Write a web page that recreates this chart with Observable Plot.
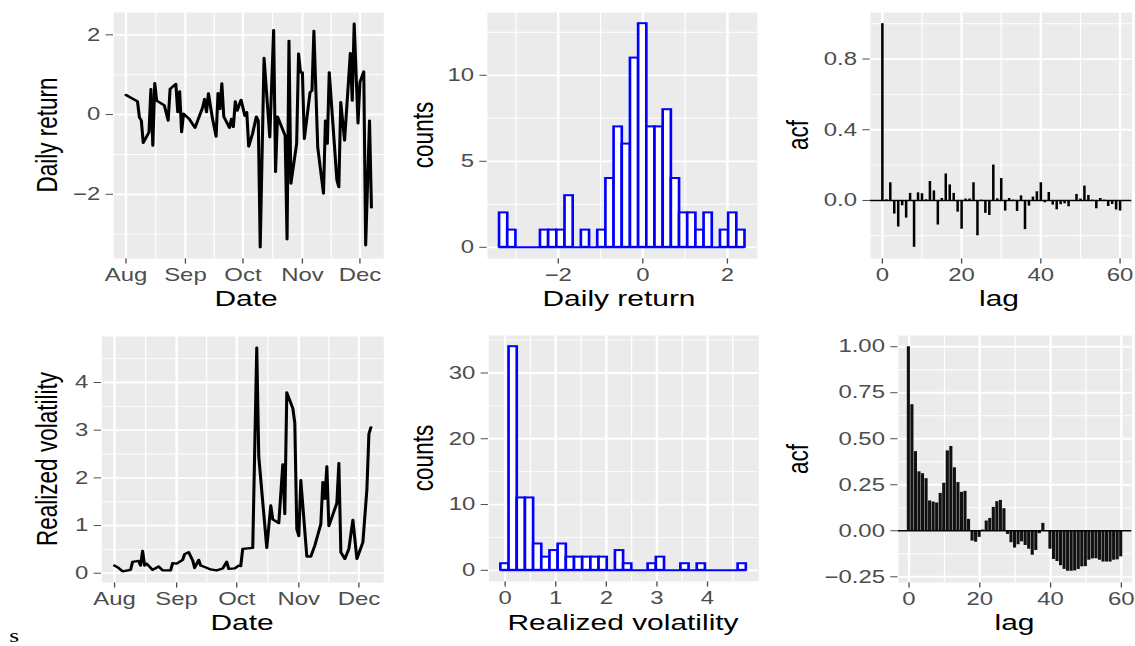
<!DOCTYPE html>
<html><head><meta charset="utf-8">
<script src="https://cdn.jsdelivr.net/npm/d3@7"></script>
<script src="https://cdn.jsdelivr.net/npm/@observablehq/plot@0.6"></script>
<style>
body{margin:0;background:#fff;}
#root{position:relative;width:853.4px;height:646px;transform:scaleX(1.33);transform-origin:0 0;font-family:"Liberation Sans",Arial,Helvetica,sans-serif;overflow:visible;}
.xt,.yt{position:absolute;font-size:22.5px;line-height:1;color:#000;white-space:nowrap;}
.xt{transform:translate(-50%,-50%);}
.yt{transform:translate(-50%,-50%) rotate(-90deg);}
.stray{position:absolute;left:7px;top:625px;font-family:"Liberation Serif","DejaVu Serif",serif;font-size:19px;color:#000;}
</style></head><body><div id="root"></div>
<script>
// ---------------- data ----------------
const retDates = ["2008-08-01","2008-08-07","2008-08-08","2008-08-09","2008-08-10","2008-08-13","2008-08-14","2008-08-15","2008-08-16","2008-08-17","2008-08-21","2008-08-23","2008-08-24","2008-08-27","2008-08-28","2008-08-29","2008-08-30","2008-08-31","2008-09-03","2008-09-06","2008-09-10","2008-09-11","2008-09-12","2008-09-13","2008-09-15","2008-09-17","2008-09-18","2008-09-19","2008-09-20","2008-09-21","2008-09-24","2008-09-25","2008-09-26","2008-09-27","2008-09-28","2008-09-30","2008-10-02","2008-10-03","2008-10-04","2008-10-06","2008-10-08","2008-10-09","2008-10-10","2008-10-12","2008-10-15","2008-10-17","2008-10-18","2008-10-19","2008-10-23","2008-10-24","2008-10-25","2008-10-26","2008-10-29","2008-10-30","2008-10-31","2008-11-01","2008-11-02","2008-11-05","2008-11-06","2008-11-07","2008-11-09","2008-11-12","2008-11-13","2008-11-14","2008-11-15","2008-11-19","2008-11-20","2008-11-21","2008-11-23","2008-11-26","2008-11-27","2008-11-28","2008-11-30","2008-12-01","2008-12-03","2008-12-04","2008-12-06","2008-12-07"];
const retValues = [0.49,0.33,-0.07,-0.15,-0.71,-0.44,0.64,-0.78,0.79,0.35,0.23,-0.15,0.64,0.77,0.06,0.58,-0.44,0.02,-0.11,-0.33,0.18,0.39,0.06,0.53,-0.07,-0.55,0.54,0.14,0.78,-0.05,-0.33,-0.11,-0.31,0.33,0.10,0.37,-0.03,0.06,-0.80,-0.48,-0.05,-0.15,-3.33,1.42,-0.57,2.12,-1.44,-0.05,-0.53,-3.13,1.85,-1.73,-0.73,1.53,1.06,1.06,-0.61,0.56,0.60,2.10,-0.82,-1.98,-0.15,-0.73,1.06,-1.65,-1.82,0.31,-0.65,1.54,0.35,2.28,-0.22,0.81,1.08,-3.28,-0.15,-2.33];

const volDates = ["2008-08-01","2008-08-03","2008-08-05","2008-08-09","2008-08-10","2008-08-13","2008-08-14","2008-08-15","2008-08-16","2008-08-17","2008-08-20","2008-08-23","2008-08-25","2008-08-29","2008-08-30","2008-09-01","2008-09-04","2008-09-05","2008-09-07","2008-09-09","2008-09-10","2008-09-12","2008-09-13","2008-09-15","2008-09-18","2008-09-21","2008-09-24","2008-09-26","2008-09-27","2008-09-30","2008-10-02","2008-10-03","2008-10-04","2008-10-09","2008-10-11","2008-10-12","2008-10-16","2008-10-18","2008-10-19","2008-10-22","2008-10-24","2008-10-25","2008-10-26","2008-10-29","2008-10-30","2008-10-31","2008-11-01","2008-11-02","2008-11-05","2008-11-07","2008-11-09","2008-11-12","2008-11-13","2008-11-14","2008-11-15","2008-11-16","2008-11-20","2008-11-21","2008-11-22","2008-11-24","2008-11-26","2008-11-28","2008-11-30","2008-12-03","2008-12-05","2008-12-06","2008-12-07"];
const volValues = [0.16,0.11,0.04,0.07,0.24,0.26,0.16,0.47,0.16,0.20,0.07,0.14,0.06,0.06,0.21,0.20,0.28,0.40,0.44,0.27,0.11,0.28,0.16,0.13,0.08,0.06,0.10,0.24,0.09,0.10,0.16,0.15,0.51,0.53,4.73,2.45,0.53,1.42,1.13,1.05,2.28,1.24,3.79,3.46,3.15,0.92,0.78,1.95,0.35,0.35,0.58,1.03,1.91,1.56,2.24,0.99,1.47,2.31,0.44,0.30,0.51,1.12,0.30,0.65,1.76,2.92,3.06];

const retBinStart = -3.385, retBinWidth = 0.1935;
const retCounts = [2,1,0,0,0,1,1,1,3,0,1,0,1,4,7,6,11,13,7,7,8,4,2,2,1,2,0,1,2,1];
const volBinStart = -0.081, volBinWidth = 0.1617;
const volCounts = [1,34,11,11,4,2,3,4,2,2,2,2,2,0,3,1,0,0,1,2,0,0,1,0,1,0,0,0,0,1];

const acfRet = [1.0,0.004,0.10,-0.077,-0.15,-0.03,-0.10,0.04,-0.265,0.043,0.038,0.004,0.107,0.054,-0.139,0.011,0.15,0.088,0.04,-0.066,-0.163,0.008,0.008,0.10,-0.20,0.002,-0.073,-0.085,0.20,0.009,0.124,-0.06,0.011,0.002,-0.062,0.026,-0.165,-0.032,0.019,0.049,0.10,-0.013,0.045,-0.026,-0.053,-0.024,-0.019,-0.036,-0.003,0.034,0.008,0.081,0.028,0.002,-0.047,0.011,0.002,-0.034,-0.023,-0.054,-0.06];
const acfVol = [1.0,0.685,0.43,0.32,0.31,0.283,0.162,0.156,0.151,0.203,0.258,0.434,0.458,0.342,0.262,0.209,0.214,0.062,-0.056,-0.062,-0.036,0.004,0.053,0.067,0.127,0.158,0.165,0.12,-0.02,-0.065,-0.094,-0.076,-0.06,-0.08,-0.10,-0.133,-0.107,-0.016,0.04,-0.003,-0.10,-0.156,-0.167,-0.19,-0.21,-0.22,-0.22,-0.218,-0.21,-0.196,-0.195,-0.16,-0.153,-0.152,-0.16,-0.17,-0.17,-0.17,-0.16,-0.158,-0.142];

const monthTicks = ["2008-08-01","2008-09-01","2008-10-01","2008-11-01","2008-12-01"];
const monthLabels = ["Aug","Sep","Oct","Nov","Dec"];
const retTicksY = [-2,0,2], retMinorY = [-3,-1,1];
const volTicksY = [0,1,2,3,4], volMinorY = [0.5,1.5,2.5,3.5,4.5];
const h1TicksX = [-2,0,2], h1MinorX = [-3,-1,1];
const h1TicksY = [0,5,10], h1MinorY = [2.5,7.5,12.5];
const h2TicksX = [0,1,2,3,4], h2MinorX = [0.5,1.5,2.5,3.5,4.5];
const h2TicksY = [0,10,20,30], h2MinorY = [5,15,25,35];
const lagTicks = [0,20,40,60], lagMinor = [10,30,50];
const acf1TicksY = [0,0.4,0.8], acf1MinorY = [-0.2,0.2,0.6,1.0];
const acf2TicksY = [-0.25,0,0.25,0.5,0.75,1.0], acf2MinorY = [-0.125,0.125,0.375,0.625,0.875];

// ---------------- helpers ----------------
const S = 1.33;
const root = document.getElementById("root");
const ML = 60, MR = 4, MT = 4, MB = 40;
const BG = "#EBEBEB";
function expand(lo, hi) { const r = hi - lo; return [lo - 0.05 * r, hi + 0.05 * r]; }
function expandDate(a, b) { const r = b - a; return [new Date(+a - 0.05 * r), new Date(+b + 0.05 * r)]; }
function grid(xMaj, xMin, yMaj, yMin) {
  return [
    Plot.frame({fill: BG, stroke: "none"}),
    Plot.ruleX(xMin, {stroke: "white", strokeWidth: 0.9}),
    Plot.ruleY(yMin, {stroke: "white", strokeWidth: 0.9}),
    Plot.ruleX(xMaj, {stroke: "white", strokeWidth: 1.8}),
    Plot.ruleY(yMaj, {stroke: "white", strokeWidth: 1.8})
  ];
}
function panel(box, x, y, marks) {
  const pl = box.l / S, pr = box.r / S;
  const svg = Plot.plot({
    width: pr - pl + ML + MR, height: box.b - box.t + MT + MB,
    marginLeft: ML, marginRight: MR, marginTop: MT, marginBottom: MB,
    x: Object.assign({tickSize: 5.6, tickPadding: 4.5, label: null}, x),
    y: Object.assign({tickSize: 5.6, tickPadding: 4.5, label: null}, y),
    style: "background:transparent;overflow:visible;max-width:none;font-family:'Liberation Sans',Arial,sans-serif;font-size:18px;color:#4D4D4D;",
    marks
  });
  svg.style.position = "absolute";
  svg.style.left = (pl - ML) + "px";
  svg.style.top = (box.t - MT) + "px";
  root.appendChild(svg);
}
function label(text, cx, cy, rotated) {
  const d = document.createElement("div");
  d.className = rotated ? "yt" : "xt";
  d.textContent = text;
  d.style.left = (cx / S) + "px";
  d.style.top = cy + "px";
  root.appendChild(d);
}
const fmtInt = d3.format("d");
const monthMap = new Map(monthTicks.map((d, i) => [+new Date(d), monthLabels[i]]));
const monthDates = monthTicks.map(d => new Date(d));
const monthMinor = monthDates.slice(1).map((d, i) => new Date((+d + +monthDates[i]) / 2));

// ---------------- line panels ----------------
const retData = retDates.map((d, i) => ({date: new Date(d), v: retValues[i]}));
const volData = volDates.map((d, i) => ({date: new Date(d), v: volValues[i]}));
const allDates = retData.concat(volData).map(d => d.date);
const dateDomain = expandDate(d3.min(allDates), d3.max(allDates));

panel({l: 113, r: 383, t: 12, b: 258},
  {type: "utc", domain: dateDomain, ticks: monthDates, tickFormat: d => monthMap.get(+d)},
  {domain: expand(d3.min(retValues), d3.max(retValues)), ticks: retTicksY, tickFormat: fmtInt},
  [...grid(monthDates, monthMinor, retTicksY, retMinorY),
   Plot.line(retData, {x: "date", y: "v", stroke: "black", strokeWidth: 2.3})]);

panel({l: 101, r: 383, t: 336, b: 582},
  {type: "utc", domain: dateDomain, ticks: monthDates, tickFormat: d => monthMap.get(+d)},
  {domain: expand(d3.min(volValues), d3.max(volValues)), ticks: volTicksY, tickFormat: fmtInt},
  [...grid(monthDates, monthMinor, volTicksY, volMinorY),
   Plot.line(volData, {x: "date", y: "v", stroke: "black", strokeWidth: 2.3})]);

// ---------------- histograms ----------------
function histPanel(box, start, width, counts, tx, mx, ty, my) {
  const bins = counts.map((c, i) => ({x1: start + i * width, x2: start + (i + 1) * width, count: c}));
  const lo = start, hi = start + counts.length * width;
  panel(box,
    {domain: expand(lo, hi), ticks: tx, tickFormat: fmtInt},
    {domain: expand(0, d3.max(counts)), ticks: ty, tickFormat: fmtInt},
    [...grid(tx, mx, ty, my),
     Plot.ruleY([0], {x1: lo, x2: hi, stroke: "blue", strokeWidth: 2}),
     Plot.rect(bins.filter(b => b.count > 0), {x1: "x1", x2: "x2", y1: 0, y2: "count", fill: "white", stroke: "blue", strokeWidth: 2})]);
}
histPanel({l: 487, r: 757, t: 12, b: 258}, retBinStart, retBinWidth, retCounts, h1TicksX, h1MinorX, h1TicksY, h1MinorY);
histPanel({l: 488, r: 758, t: 335, b: 581}, volBinStart, volBinWidth, volCounts, h2TicksX, h2MinorX, h2TicksY, h2MinorY);

// ---------------- ACF panels ----------------
const acfRetData = acfRet.map((a, i) => ({lag: i, acf: a}));
const acfVolData = acfVol.map((a, i) => ({lag: i, acf: a}));
panel({l: 870, r: 1131.5, t: 12, b: 258},
  {domain: expand(0, acfRet.length - 1), ticks: lagTicks, tickFormat: fmtInt},
  {domain: expand(d3.min(acfRet), d3.max(acfRet)), ticks: acf1TicksY, tickFormat: d3.format(".1f")},
  [...grid(lagTicks, lagMinor, acf1TicksY, acf1MinorY),
   Plot.ruleX(acfRetData, {x: "lag", y1: 0, y2: "acf", stroke: "black", strokeWidth: 1.9}),
   Plot.ruleY([0], {stroke: "black", strokeWidth: 1.5})]);
panel({l: 897.7, r: 1131.3, t: 335, b: 582},
  {domain: expand(0, acfVol.length - 1), ticks: lagTicks, tickFormat: fmtInt},
  {domain: expand(d3.min(acfVol), d3.max(acfVol)), ticks: acf2TicksY, tickFormat: d3.format(".2f")},
  [...grid(lagTicks, lagMinor, acf2TicksY, acf2MinorY),
   Plot.rect(acfVolData, {x1: d => d.lag - 0.44, x2: d => d.lag + 0.44, y1: 0, y2: "acf", fill: "#111"}),
   Plot.ruleY([0], {stroke: "black", strokeWidth: 1.6})]);

// ---------------- axis titles ----------------
label("Date", 246, 299, false);
label("Daily return", 619, 299, false);
label("lag", 999, 299, false);
label("Date", 242, 623, false);
label("Realized volatility", 623, 623, false);
label("lag", 1014.5, 623, false);
label("Daily return", 48, 135, true);
label("counts", 424, 135, true);
label("acf", 799, 135, true);
label("Realized volatility", 48, 458.5, true);
label("counts", 424, 458, true);
label("acf", 799, 458.5, true);
const st = document.createElement("div");
st.className = "stray"; st.textContent = "s";
root.appendChild(st);
</script></body></html>
